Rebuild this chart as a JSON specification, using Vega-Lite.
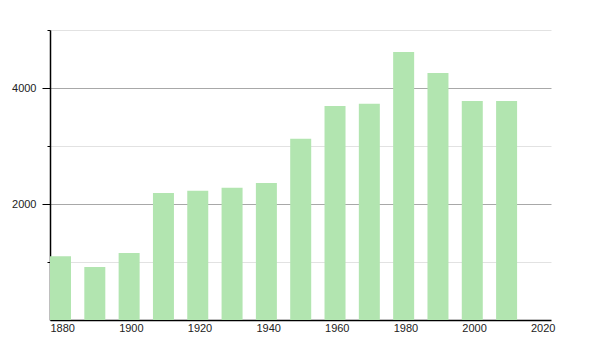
{
  "$schema": "https://vega.github.io/schema/vega-lite/v6.json",
  "autosize": {"type": "none"},
  "padding": {"left": 50, "top": 30, "right": 49, "bottom": 30},
  "width": 501,
  "height": 290,
  "background": "white",
  "config": {
    "view": {"stroke": null},
    "font": "Liberation Sans"
  },
  "data": {
    "values": [
      {"year": 1880, "population": 1100},
      {"year": 1890, "population": 914},
      {"year": 1900, "population": 1155},
      {"year": 1910, "population": 2190},
      {"year": 1920, "population": 2230},
      {"year": 1930, "population": 2281},
      {"year": 1940, "population": 2362},
      {"year": 1950, "population": 3126},
      {"year": 1960, "population": 3690},
      {"year": 1970, "population": 3730},
      {"year": 1980, "population": 4621},
      {"year": 1990, "population": 4259},
      {"year": 2000, "population": 3776},
      {"year": 2010, "population": 3776}
    ]
  },
  "mark": {"type": "bar", "width": 21, "xOffset": 10.5, "color": "#b2e5b0"},
  "encoding": {
    "x": {
      "field": "year",
      "type": "quantitative",
      "scale": {"domain": [1880, 2026], "nice": false, "zero": false, "padding": 0},
      "axis": {
        "title": null,
        "values": [1880, 1900, 1920, 1940, 1960, 1980, 2000, 2020],
        "format": "d",
        "labelAlign": "left",
        "labelFontSize": 11,
        "labelColor": "#222",
        "labelPadding": 2,
        "ticks": false,
        "grid": false,
        "domainColor": "#000",
        "domainWidth": 1.5,
        "labelFlush": false,
        "labelOverlap": false
      }
    },
    "y": {
      "field": "population",
      "type": "quantitative",
      "scale": {"domain": [0, 5000], "nice": false},
      "axis": {
        "title": null,
        "values": [1000, 2000, 3000, 4000, 5000],
        "labelExpr": "datum.value % 2000 === 0 ? datum.value : ''",
        "labelFontSize": 11,
        "labelColor": "#222",
        "labelPadding": 6,
        "domainColor": "#000",
        "domainWidth": 1.5,
        "tickColor": "#000",
        "tickSize": {"condition": {"test": "datum.value % 2000 === 0", "value": 8}, "value": 3},
        "grid": true,
        "gridColor": {"condition": {"test": "datum.value % 2000 === 0", "value": "#a8a8a8"}, "value": "#e2e2e2"},
        "gridWidth": 1
      }
    }
  }
}
